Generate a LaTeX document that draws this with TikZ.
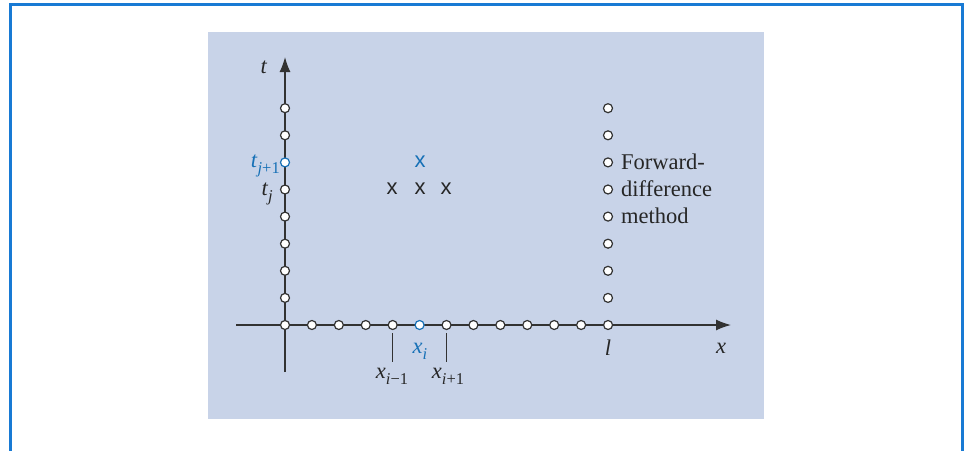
\documentclass[tikz,border=0pt]{standalone}
\usepackage{fontspec}
\setmainfont{Liberation Serif}
\newfontfamily\xsans{Liberation Sans}
\usetikzlibrary{arrows.meta}
\definecolor{panel}{RGB}{200,211,232}
\definecolor{frameblue}{RGB}{24,122,212}
\definecolor{hiblue}{RGB}{22,112,182}
\definecolor{axisgray}{RGB}{50,50,50}
\newcommand\mylbl[2]{\textit{#1}\raisebox{-0.3em}{\fontsize{16.5}{16.5}\selectfont #2}}
\tikzset{
  gp/.style={circle,draw=axisgray,fill=white,inner sep=0pt,minimum size=9pt,line width=1.2pt},
  gpblue/.style={gp,draw=hiblue},
  axisline/.style={draw=axisgray,line width=1.3pt},
  tickline/.style={draw=axisgray,line width=1pt},
  txt/.style={inner sep=0pt,font=\fontsize{22.5}{27}\selectfont,text=black!85},
  xmark/.style={inner sep=0pt,font=\xsans\fontsize{22}{26}\selectfont,text=black!85},
}
\begin{document}
\begin{tikzpicture}[x=1pt,y=-1pt]
\useasboundingbox (0,0) rectangle (966,450);
\begin{scope}
\clip (0,0) rectangle (966,450);
\draw[frameblue,line width=3pt] (10.5,460) -- (10.5,4.5) -- (962.5,4.5) -- (962.5,460);
\end{scope}
\fill[panel] (208,32) rectangle (764,419);
% axes
\coordinate (xs) at (236,325);
\coordinate (xe) at (731,325);
\coordinate (ts) at (285,372);
\coordinate (te) at (285,57);
\draw[axisline,-{Latex[length=15pt,width=11pt]}] (xs) -- (xe);
\draw[axisline,-{Latex[length=15pt,width=11pt]}] (ts) -- (te);
% x-axis grid points
\foreach \i in {0,...,12} {
  \pgfmathsetmacro\xx{285+26.92*\i}
  \ifnum\i=5
    \node[gpblue] (h\i) at (\xx,325) {};
  \else
    \node[gp] (h\i) at (\xx,325) {};
  \fi
}
% t-axis grid points
\foreach \j in {1,...,8} {
  \pgfmathsetmacro\yy{325-27.1*\j}
  \ifnum\j=6
    \node[gpblue] (v\j) at (285,\yy) {};
  \else
    \node[gp] (v\j) at (285,\yy) {};
  \fi
  \node[gp] (r\j) at (608,\yy) {};
}
% stencil marks
\node[xmark,text=hiblue] (m1) at (420,162) {x};
\node[xmark] (m2) at (392,189) {x};
\node[xmark] (m3) at (420,189) {x};
\node[xmark] (m4) at (446,189) {x};
% ticks
\coordinate (k1a) at (392,333); \coordinate (k1b) at (392,362);
\coordinate (k2a) at (446,333); \coordinate (k2b) at (446,362);
\draw[tickline] (k1a) -- (k1b);
\draw[tickline] (k2a) -- (k2b);
% labels
\node[txt,anchor=base] (tl) at (264,73) {\textit{t}};
\node[txt,anchor=base east,text=hiblue] (tj1) at (280,167) {\mylbl{t}{\textit{j}+1}};
\node[txt,anchor=base east] (tj) at (273,195) {\mylbl{t}{\textit{j}}};
\node[txt,anchor=base,text=hiblue] (xi) at (420,353) {\mylbl{x}{\textit{i}}};
\node[txt,anchor=base] (xim) at (392,378) {\mylbl{x}{\textit{i}−1}};
\node[txt,anchor=base] (xip) at (448,378) {\mylbl{x}{\textit{i}+1}};
\node[txt,anchor=base] (ll) at (608,355) {\textit{l}};
\node[txt,anchor=base] (xl) at (721,353) {\textit{x}};
\node[txt,anchor=base west] (f1) at (621,169) {Forward-};
\node[txt,anchor=base west] (f2) at (621,196) {difference};
\node[txt,anchor=base west] (f3) at (621,223) {method};
\end{tikzpicture}
\end{document}
